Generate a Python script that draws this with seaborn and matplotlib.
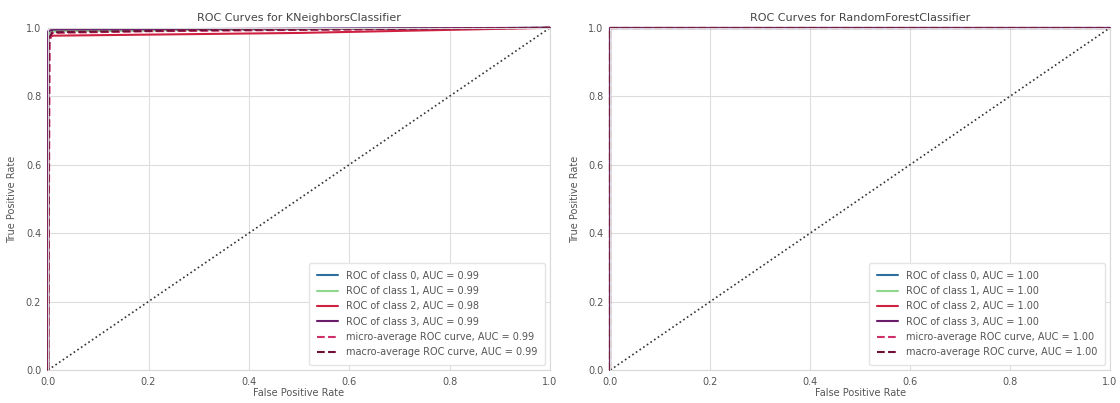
import matplotlib
matplotlib.use("Agg")
import matplotlib.pyplot as plt
import seaborn as sns
import pandas as pd

# ---- data ----
knn_title = "ROC Curves for KNeighborsClassifier"
rf_title = "ROC Curves for RandomForestClassifier"

knn_fpr_c0 = [0.0, 0.0, 0.005, 0.3, 1.0]
knn_tpr_c0 = [0.0, 0.985, 0.99, 0.995, 1.0]
knn_fpr_c1 = [0.0, 0.0, 0.004, 0.4, 1.0]
knn_tpr_c1 = [0.0, 0.98, 0.99, 0.995, 1.0]
knn_fpr_c2 = [0.0, 0.0, 0.01, 0.5, 1.0]
knn_tpr_c2 = [0.0, 0.972, 0.977, 0.985, 1.0]
knn_fpr_c3 = [0.0, 0.0, 0.01, 1.0]
knn_tpr_c3 = [0.0, 0.99, 0.995, 1.0]
knn_fpr_micro = [0.0, 0.003, 0.008, 0.2, 1.0]
knn_tpr_micro = [0.0, 0.96, 0.985, 0.99, 1.0]
knn_fpr_macro = [0.0, 0.002, 0.008, 0.3, 1.0]
knn_tpr_macro = [0.0, 0.97, 0.987, 0.993, 1.0]
knn_auc = [0.99, 0.99, 0.98, 0.99, 0.99, 0.99]

rf_fpr = [0.0, 0.0, 1.0]
rf_tpr = [0.0, 1.0, 1.0]
rf_auc = [1.00, 1.00, 1.00, 1.00, 1.00, 1.00]

ticks = [0.0, 0.2, 0.4, 0.6, 0.8, 1.0]
tick_labels = ["0.0", "0.2", "0.4", "0.6", "0.8", "1.0"]

class_colors = ["#2f6f9f", "#8fd68f", "#d02040", "#6a1b6a"]
micro_color = "#d0306a"
macro_color = "#701038"

sns.set_style("whitegrid", {"grid.color": "#dddddd", "axes.edgecolor": "#d8d8d8"})
plt.rcParams["font.family"] = ["DejaVu Sans"]

fig = plt.figure(figsize=(11.2, 4.03), dpi=100)
ax1 = fig.add_axes([0.043, 0.082, 0.448, 0.849])
ax2 = fig.add_axes([0.545, 0.082, 0.446, 0.849])


def draw(ax, title, curves, aucs):
    labels = [f"ROC of class {i}, AUC = {aucs[i]:.2f}" for i in range(4)]
    labels += [f"micro-average ROC curve, AUC = {aucs[4]:.2f}",
               f"macro-average ROC curve, AUC = {aucs[5]:.2f}"]
    colors = class_colors + [micro_color, macro_color]
    styles = ["-"] * 4 + ["--", "--"]
    for (fx, ty), lab, col, ls in zip(curves, labels, colors, styles):
        df = pd.DataFrame({"fpr": fx, "tpr": ty})
        sns.lineplot(data=df, x="fpr", y="tpr", ax=ax, sort=False, estimator=None,
                     color=col, linestyle=ls, linewidth=1.5, label=lab,
                     clip_on=False)
    diag = pd.DataFrame({"x": [0.0, 1.0], "y": [0.0, 1.0]})
    sns.lineplot(data=diag, x="x", y="y", ax=ax, color="#333333", linestyle=":",
                 linewidth=1.2, legend=False)
    ax.set_xlim(0, 1)
    ax.set_ylim(0, 1)
    ax.set_xticks(ticks)
    ax.set_xticklabels(tick_labels)
    ax.set_yticks(ticks)
    ax.set_yticklabels(tick_labels)
    ax.tick_params(labelsize=7, colors="#555555", length=0, pad=5)
    ax.set_title(title, fontsize=8, color="#444444", pad=5)
    ax.set_xlabel("False Positive Rate", fontsize=7, color="#555555", labelpad=1)
    ax.set_ylabel("True Positive Rate", fontsize=7, color="#555555", labelpad=6)
    leg = ax.legend(loc="lower right", fontsize=7, frameon=True, framealpha=1,
                    edgecolor="#e4e4e4", handlelength=2.2, borderpad=0.8,
                    labelspacing=0.55)
    for t in leg.get_texts():
        t.set_color("#555555")


knn_curves = [(knn_fpr_c0, knn_tpr_c0), (knn_fpr_c1, knn_tpr_c1),
              (knn_fpr_c2, knn_tpr_c2), (knn_fpr_c3, knn_tpr_c3),
              (knn_fpr_micro, knn_tpr_micro), (knn_fpr_macro, knn_tpr_macro)]
rf_curves = [(rf_fpr, rf_tpr)] * 6

draw(ax1, knn_title, knn_curves, knn_auc)
draw(ax2, rf_title, rf_curves, rf_auc)

fig.savefig("out.png", dpi=100)
